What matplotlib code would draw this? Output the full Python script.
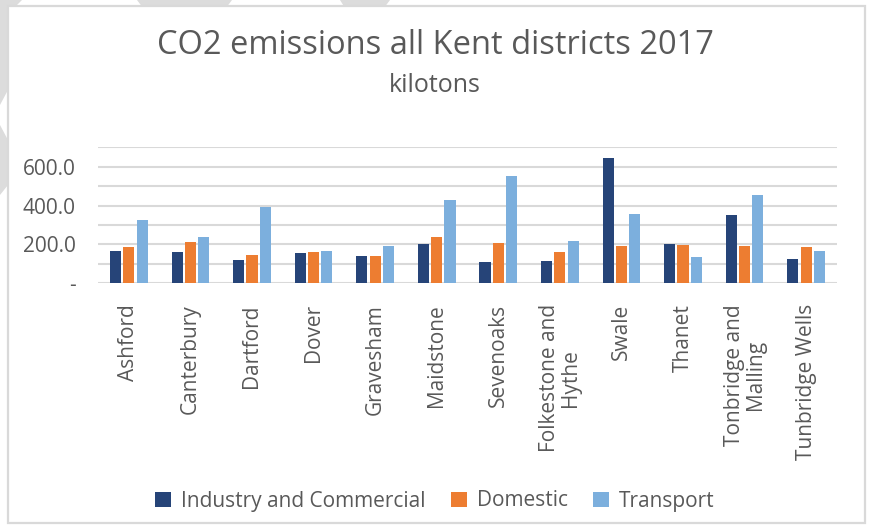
import matplotlib
matplotlib.use("Agg")
import matplotlib.pyplot as plt
from matplotlib.patches import Polygon, Rectangle
import numpy as np

# District values, kilotons CO2 (2017)
districts = ["Ashford", "Canterbury", "Dartford", "Dover", "Gravesham",
             "Maidstone", "Sevenoaks", "Folkestone and\nHythe", "Swale",
             "Thanet", "Tonbridge and\nMalling", "Tunbridge Wells"]
industry = [166, 161, 120, 156, 141, 202, 110, 115, 645, 202, 352, 125]
domestic = [187, 213, 146, 161, 141, 238, 208, 161, 192, 197, 192, 187]
transport = [326, 238, 393, 166, 192, 429, 552, 218, 357, 136, 455, 166]

series = ["Industry and Commercial", "Domestic", "Transport"]
colors = ["#264478", "#ED7D31", "#7CAFDD"]
text_col = "#595959"
grid_col = "#D9D9D9"

plt.rcParams["font.family"] = ["Open Sans", "DejaVu Sans"]

W, H = 870, 526
fig = plt.figure(figsize=(W / 100, H / 100), dpi=100)

# light grey background shapes behind the chart frame (pixel coords, y down)
def px_poly(pts):
    return Polygon([(x / W, 1 - y / H) for x, y in pts], closed=True,
                   transform=fig.transFigure, facecolor="#DCDCDC",
                   edgecolor="none", zorder=0)

for pts in [[(0, 0), (22, 0), (14, 8), (0, 8)],
            [(137, 0), (232, 0), (226, 8), (143, 8)],
            [(340, 0), (390, 0), (384, 8), (345, 8)],
            [(0, 0), (8, 0), (8, 90), (0, 105)],
            [(0, 125), (8, 140), (8, 185), (0, 195)]]:
    fig.patches.append(px_poly(pts))

# chart frame
frame = Rectangle((8 / W, 1 - 523 / H), (865 - 8) / W, (523 - 6) / H,
                  transform=fig.transFigure, facecolor="white",
                  edgecolor=grid_col, linewidth=1.6, zorder=1)
fig.patches.append(frame)

ax = fig.add_axes([98 / W, 1 - 283.3 / H, (837 - 98) / W, (283.3 - 147.3) / H])
ax.set_zorder(2)
ax.patch.set_alpha(0)

x = np.arange(len(districts))
bw = 0.18
step = 0.216
for i, (vals, c, name) in enumerate(zip([industry, domestic, transport], colors, series)):
    ax.bar(x + (i - 1) * step, vals, width=bw, color=c, label=name, zorder=3)

ax.set_xlim(-0.5, len(districts) - 0.5)
ax.set_ylim(0, 700)
ax.set_yticks(np.arange(0, 701, 100), minor=True)
ax.set_yticks([0, 200, 400, 600])
ax.set_yticklabels(["-", "200.0", "400.0", "600.0"])
ax.grid(axis="y", which="both", color=grid_col, linewidth=1.5, zorder=0)
ax.set_axisbelow(True)
for s in ax.spines.values():
    s.set_visible(False)

ax.tick_params(axis="y", which="both", length=0, pad=16, labelsize=15,
               labelcolor=text_col)
ax.set_xticks(x)
ax.set_xticklabels(districts, rotation=90, ha="center", va="top",
                   multialignment="center", fontsize=15, color=text_col,
                   linespacing=1.0)
ax.tick_params(axis="x", length=0, pad=15)

fig.text(0.5, 1 - 46 / H, "CO2 emissions all Kent districts 2017",
         ha="center", va="center", fontsize=23.5, color=text_col, zorder=3)
fig.text(0.5, 1 - 85 / H, "kilotons", ha="center", va="center",
         fontsize=18, color=text_col, zorder=3)

fig.legend(loc="center", bbox_to_anchor=(0.5, 1 - 501 / H), ncol=3,
           frameon=False, fontsize=15, labelcolor=text_col,
           handlelength=0.75, handleheight=0.75, handletextpad=0.5,
           columnspacing=1.2)

fig.savefig("out.png", dpi=100)
